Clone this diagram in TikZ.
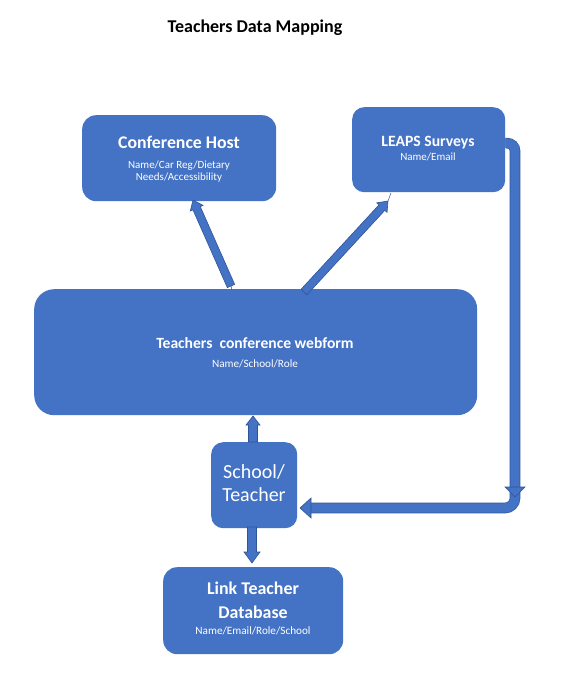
\documentclass[tikz,border=0pt]{standalone}
\usepackage{fontspec}
\setmainfont{Carlito}
\usetikzlibrary{calc}
\definecolor{boxblue}{HTML}{4472C4}
\definecolor{edgeblue}{HTML}{2F5597}
\newcommand\blockarrow[5]{%
  \coordinate (ba1) at (#1); \coordinate (ba2) at (#2);
  \coordinate (bah) at ($(ba2)!#5!(ba1)$);
  \filldraw[arrowsty] ($(ba1)!#3!90:(ba2)$) -- ($(bah)!#3!-90:(ba1)$) -- ($(bah)!#4!-90:(ba1)$) -- (ba2)
     -- ($(bah)!#4!90:(ba1)$) -- ($(bah)!#3!90:(ba1)$) -- ($(ba1)!#3!-90:(ba2)$) -- cycle;}
\begin{document}
\begin{tikzpicture}[x=1pt,y=-1pt,
  box/.style={fill=boxblue, draw=none, inner sep=0pt, anchor=north west},
  txt/.style={text=white, inner sep=0pt, align=center},
  arrowsty/.style={fill=boxblue, draw=edgeblue, line width=0.6pt, line join=miter},
  thin/.style={draw=edgeblue, line width=0.5pt}]
\useasboundingbox[fill=white] (0,0) rectangle (565,679);

\node[inner sep=0pt, font=\fontsize{18}{21}\selectfont\bfseries] (title) at (255,28) {Teachers Data Mapping};

% boxes
\node[box, rounded corners=14pt, minimum width=194pt, minimum height=86pt] (host) at (82,115) {};
\node[box, rounded corners=12pt, minimum width=153pt, minimum height=85pt] (leaps) at (352,107) {};
\node[box, rounded corners=20pt, minimum width=443pt, minimum height=126pt] (web) at (34,289) {};
\node[box, rounded corners=12pt, minimum width=86pt, minimum height=86pt] (school) at (211,442) {};
\node[box, rounded corners=14pt, minimum width=180pt, minimum height=87pt] (link) at (163,567) {};

% texts
\node[txt, font=\fontsize{17.8}{20}\selectfont\bfseries] (hostT) at (179,142) {Conference Host};
\node[txt, font=\fontsize{11}{12}\selectfont] (hostS) at (179,171.5) {Name/Car Reg/Dietary\\Needs/Accessibility};
\node[txt, font=\fontsize{15.7}{18}\selectfont\bfseries] (leapsT) at (428,143) {LEAPS Surveys};
\node[txt, font=\fontsize{11}{12}\selectfont] (leapsS) at (428,157) {Name/Email};
\node[txt, font=\fontsize{15.6}{18}\selectfont\bfseries] (webT) at (255,343) {Teachers\ \ conference webform};
\node[txt, font=\fontsize{11.2}{13}\selectfont] (webS) at (255,364) {Name/School/Role};
\node[txt, font=\fontsize{20}{23}\selectfont] (schoolT) at (254,483.5) {School/\\Teacher};
\node[txt, font=\fontsize{17.9}{24}\selectfont\bfseries] (linkT) at (253,600) {Link Teacher\\Database};
\node[txt, font=\fontsize{11.2}{13}\selectfont] (linkS) at (253,631) {Name/Email/Role/School};

% straight block arrows
\coordinate (a1s) at (231,286); \coordinate (a1e) at (193,200);
\coordinate (a2s) at (304,292); \coordinate (a2e) at (388,201);
\coordinate (a3s) at (253,442); \coordinate (a3e) at (253,416);
\coordinate (a4s) at (252,527); \coordinate (a4e) at (252,563);
\draw[thin] (a1s) -- (232,290);
\draw[thin] (a2e) -- (391,193);
\blockarrow{a1s}{a1e}{4pt}{7pt}{9pt}
\blockarrow{a2s}{a2e}{4pt}{7pt}{9pt}
\blockarrow{a3s}{a3e}{4.5pt}{7pt}{9pt}
\blockarrow{a4s}{a4e}{4.5pt}{8pt}{11pt}

% bent arrows
\coordinate (b2s) at (515,490); \coordinate (b2c) at (515,508); \coordinate (b2e) at (311,508);
\draw[edgeblue, line width=10.6pt, rounded corners=10pt] (b2s) -- (b2c) -- (b2e);
\draw[boxblue, line width=9.4pt, rounded corners=10pt] (b2s) -- (b2c) -- (b2e);
\filldraw[arrowsty] (311,498) -- (311,518) -- (300,508) -- cycle;

\coordinate (b1s) at ($(leaps.east)+(0,-6.5)$); \coordinate (b1c) at (515,143); \coordinate (b1e) at (515,488);
\draw[edgeblue, line width=10.6pt, rounded corners=8pt] (b1s) -- (b1c) -- (b1e);
\draw[boxblue, line width=9.4pt, rounded corners=8pt] (b1s) -- (b1c) -- (b1e);
\filldraw[arrowsty] (505,487) -- (525,487) -- (515,497) -- cycle;
\end{tikzpicture}
\end{document}
